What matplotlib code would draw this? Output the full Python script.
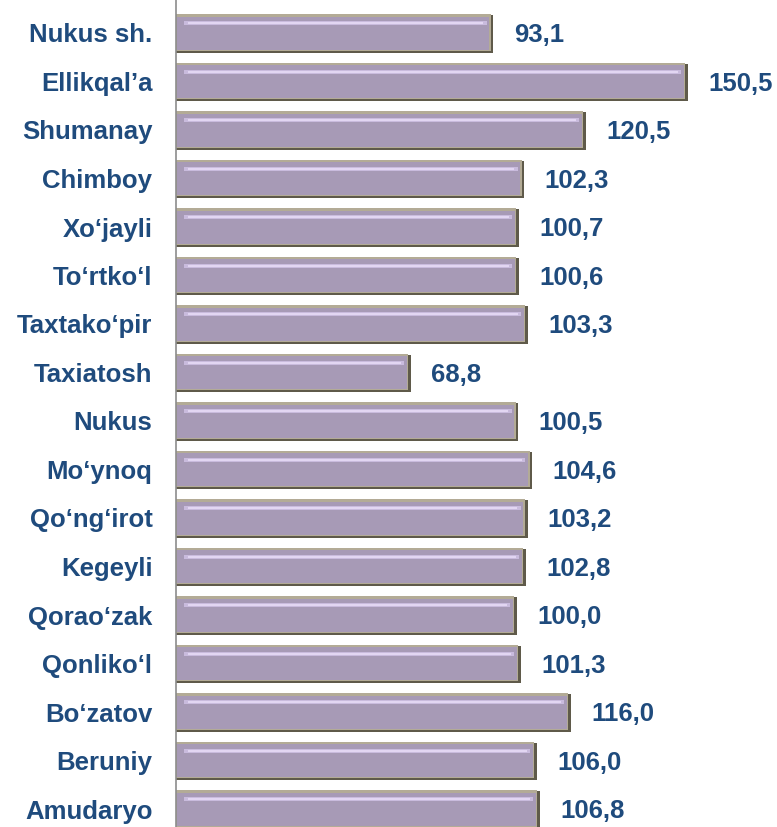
import numpy as np
import matplotlib.pyplot as plt

districts = ["Nukus sh.", "Ellikqal\u2019a", "Shumanay", "Chimboy", "Xo\u2018jayli",
             "To\u2018rtko\u2018l", "Taxtako\u2018pir", "Taxiatosh", "Nukus", "Mo\u2018ynoq",
             "Qo\u2018ng\u2018irot", "Kegeyli", "Qorao\u2018zak", "Qonliko\u2018l", "Bo\u2018zatov",
             "Beruniy", "Amudaryo"]
values = [93.1, 150.5, 120.5, 102.3, 100.7, 100.6, 103.3, 68.8, 100.5, 104.6,
          103.2, 102.8, 100.0, 101.3, 116.0, 106.0, 106.8]

text_color = "#1f4b7d"
plt.rcParams['font.family'] = ['Liberation Sans', 'DejaVu Sans']

fig = plt.figure(figsize=(7.77, 8.27), dpi=100)
ax = fig.add_axes([176 / 777, 0, 600 / 777, 1])

y = np.arange(len(values))
vals = np.array(values)

# bevelled bar: dark shadow, tan rim, lavender body, glossy stripe
ax.barh(y + 0.02, vals + 0.5, height=0.78, color="#5f5a4a", zorder=1)
ax.barh(y - 0.01, vals - 0.3, height=0.76, color="#b3ab96", zorder=2)
ax.barh(y + 0.01, vals - 1.0, left=0.3, height=0.68, color="#a79ab6", zorder=3)
ax.barh(y - 0.2, vals - 4.0, left=2.5, height=0.09, color="#c9bbdd", zorder=4)
ax.barh(y - 0.2, vals - 6.0, left=3.5, height=0.04, color="#e2d6f2", zorder=5)

for yi, v in zip(y, vals):
    ax.text(v + 6.5, yi + 0.05, f"{v:.1f}".replace(".", ","), ha="left", va="center",
            fontsize=18.5, fontweight="bold", color=text_color)

ax.set_yticks(y)
ax.set_yticklabels(districts, fontsize=18.5, fontweight="bold", color=text_color)
ax.tick_params(axis="y", length=0, pad=17)
ax.set_xticks([])
ax.set_xlim(0, 177)
ax.set_ylim((827 - 33) / 48.5, -33 / 48.5)

for s in ["top", "right", "bottom"]:
    ax.spines[s].set_visible(False)
ax.spines["left"].set_color("#8c8c8c")
ax.spines["left"].set_linewidth(1.2)

fig.savefig("out.png", dpi=100)
